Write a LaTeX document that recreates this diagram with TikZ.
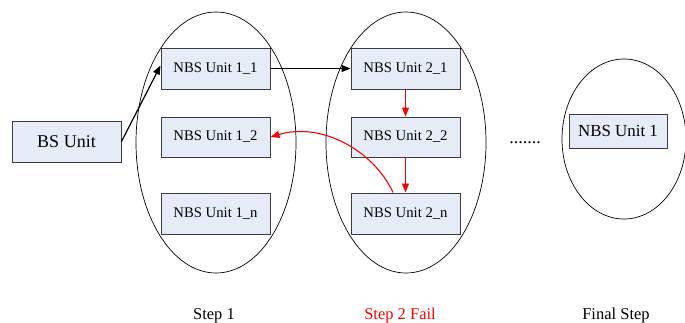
\documentclass[tikz,border=0pt]{standalone}
\usepackage{fontspec}
\setmainfont{Liberation Serif}
\usetikzlibrary{arrows.meta}
\definecolor{boxfill}{RGB}{230,236,247}
\definecolor{boxdraw}{RGB}{60,60,60}
\tikzset{
  unit/.style={draw=boxdraw, fill=boxfill, line width=1pt, minimum width=109pt, minimum height=41pt, inner sep=0pt, font=\fontsize{14.7}{16}\selectfont},
  stepoval/.style={draw=black, line width=0.7pt},
  blackarrow/.style={line width=1.2pt, -{Triangle[width=7pt,length=9pt]}},
  redarrow/.style={red, line width=1.1pt, -{Triangle[width=7pt,length=9pt]}},
  steplabel/.style={anchor=base, font=\fontsize{16.5}{18}\selectfont}
}
\begin{document}
\begin{tikzpicture}[x=1pt,y=-1pt]
\useasboundingbox (0,0) rectangle (685,322);
% ovals
\draw[stepoval] (216,142.5) ellipse [x radius=80, y radius=130.5];
\draw[stepoval] (406,142.5) ellipse [x radius=80, y radius=130.5];
\draw[stepoval] (624,139) ellipse [x radius=62, y radius=80];
% nodes
\node[unit, font=\fontsize{18}{20}\selectfont] (bs) at (66.5,141.5) {BS Unit};
\node[unit] (a1) at (215.5,68.5) {NBS Unit 1\_1};
\node[unit, minimum height=40pt] (a2) at (215.5,137) {NBS Unit 1\_2};
\node[unit] (an) at (215.5,213.5) {NBS Unit 1\_n};
\node[unit] (b1) at (405.5,68.5) {NBS Unit 2\_1};
\node[unit, minimum height=40pt] (b2) at (405.5,137) {NBS Unit 2\_2};
\node[unit] (bn) at (405.5,213.5) {NBS Unit 2\_n};
\node[unit, minimum width=98pt, minimum height=34pt, font=\fontsize{16.9}{18}\selectfont] (f1) at (618,131) {NBS Unit 1};
\node[font=\fontsize{18}{20}\selectfont] (dots) at (525,143) {.......};
% connectors
\draw[blackarrow] (bs.east) -- ([yshift=3pt]a1.west);
\draw[blackarrow] (a1.east) -- (b1.west);
\draw[redarrow] (b1.south) -- (b2.north);
\draw[redarrow] (b2.south) -- (bn.north);
\draw[redarrow] ([xshift=-12.5pt]bn.north) .. controls ++(-20,-43) and ++(50,-15) .. (a2.east);
% labels
\node[steplabel] (l1) at (214,319) {Step 1};
\node[steplabel, text=red] (l2) at (400,319) {Step 2 Fail};
\node[steplabel] (l3) at (616,319) {Final Step};
\end{tikzpicture}
\end{document}
